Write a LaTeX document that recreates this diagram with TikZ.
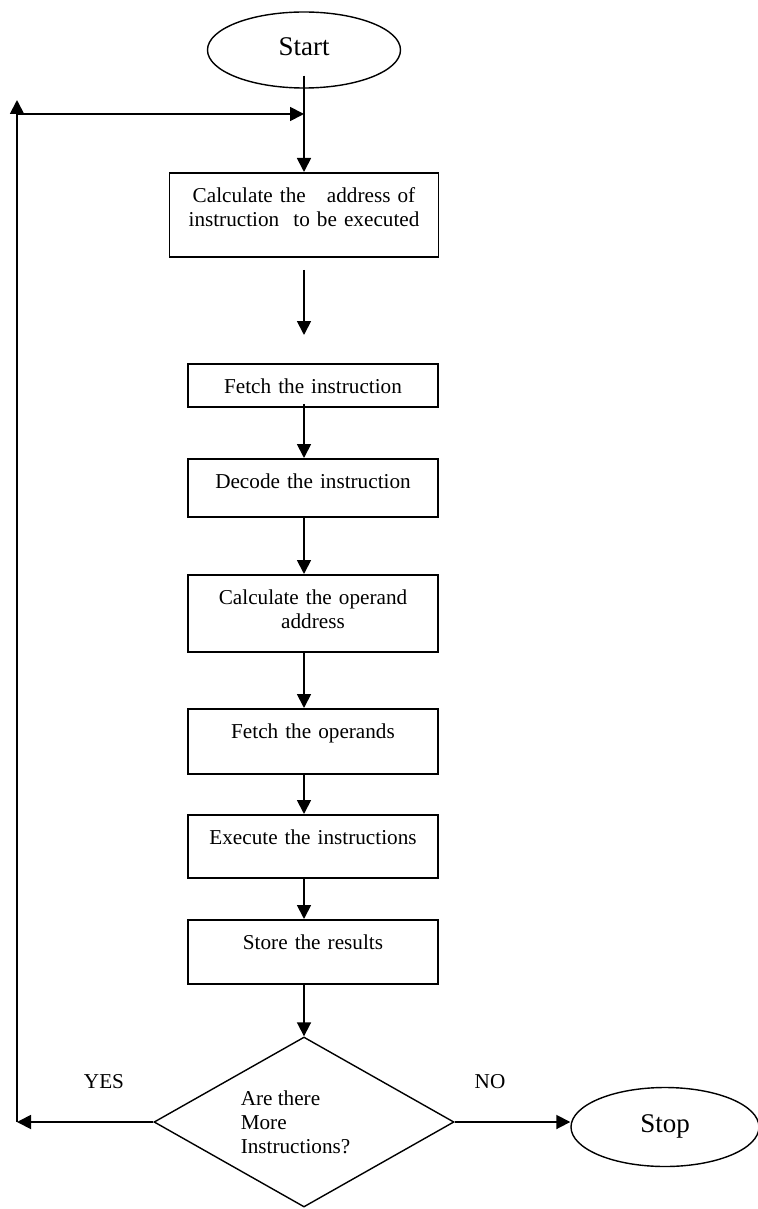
\documentclass[tikz,border=0pt]{standalone}
\usepackage{fontspec}
\setmainfont{Liberation Serif}
\usetikzlibrary{shapes.geometric,arrows.meta}

\tikzset{
    flow/.style={draw=black,line width=0.9pt},
    stepbox/.style={draw,line width=0.9pt,anchor=north,inner sep=0pt,text width=125pt,
        align=center,text height=15pt,font=\fontsize{10.6}{12}\selectfont},
    terminal/.style={draw,ellipse,line width=0.7pt,inner sep=0pt,text depth=3pt,
        font=\fontsize{13.5}{16}\selectfont}
}

\begin{document}
\begin{tikzpicture}[x=0.5pt,y=-0.5pt,>={Triangle[length=7pt,width=7pt]}]
            \useasboundingbox (0,0) rectangle (757,1209);
            \begin{scope}[every node/.style={terminal}]
                \node (start) at (304, 50) [minimum width=96.5pt,minimum height=38pt] {Start};
                \node (stop) at (665, 1127) [minimum width=94pt,minimum height=39.5pt] {Stop};
            \end{scope}
            \begin{scope}[every node/.style={stepbox}]
                \node (addr) at (304, 172) [text width=134.5pt,text depth=27pt] {Calculate the\ \ \ address of\\instruction\ \ to be executed};
                \node (fetchins) at (313, 363) [text depth=6.5pt] {Fetch the instruction};
                \node (decode) at (313, 458) [text depth=14pt] {Decode the instruction};
                \node (opaddr) at (313, 574) [text depth=23.5pt] {Calculate the operand\\address};
                \node (fetchops) at (313, 708) [text depth=17.5pt] {Fetch the operands};
                \node (execute) at (313, 814) [text depth=16.5pt] {Execute the instructions};
                \node (store) at (313, 919) [text depth=17pt] {Store the results};
            \end{scope}
            \node (decide) at (304, 1122) [draw,diamond,aspect=1.8,line width=0.7pt,inner sep=0pt,
                minimum width=150pt,minimum height=85pt,align=left,
                font=\fontsize{10.6}{12}\selectfont] {Are there\\More\\Instructions?\hspace*{8.5pt}};
            \begin{scope}[every node/.style={font=\fontsize{10.6}{12}\selectfont}]
                \node (yes) at (104, 1082) {YES};
                \node (no) at (490, 1082) {NO};
            \end{scope}
            \coordinate (cornerlow) at (17, 1122);
            \coordinate (cornerhigh) at (17, 100);
            \coordinate (loopleft) at (17, 114);
            \path [->] (start.south) edge[flow,shorten <=-6.5pt] (addr.north);
            \path [->] (loopleft) edge[flow] (loopleft -| addr.north);
            \path [->] (addr.south) edge[flow,shorten <=6pt,shorten >=14pt] (addr.south |- fetchins.north);
            \path [->] (fetchins.south -| addr.south) edge[flow,shorten <=-2pt] (decode.north -| addr.south);
            \path [->] (decode.south -| addr.south) edge[flow] (opaddr.north -| addr.south);
            \path [->] (opaddr.south -| addr.south) edge[flow] (fetchops.north -| addr.south);
            \path [->] (fetchops.south -| addr.south) edge[flow] (execute.north -| addr.south);
            \path [->] (execute.south -| addr.south) edge[flow] (store.north -| addr.south);
            \path [->] (store.south -| addr.south) edge[flow] (decide.north);
            \path [->] (decide.west) edge[flow] (decide.west -| cornerlow);
            \path [->] (cornerlow) edge[flow] (cornerhigh);
            \path [->] (decide.east) edge[flow] (decide.east -| stop.west);
        \end{tikzpicture}
\end{document}
